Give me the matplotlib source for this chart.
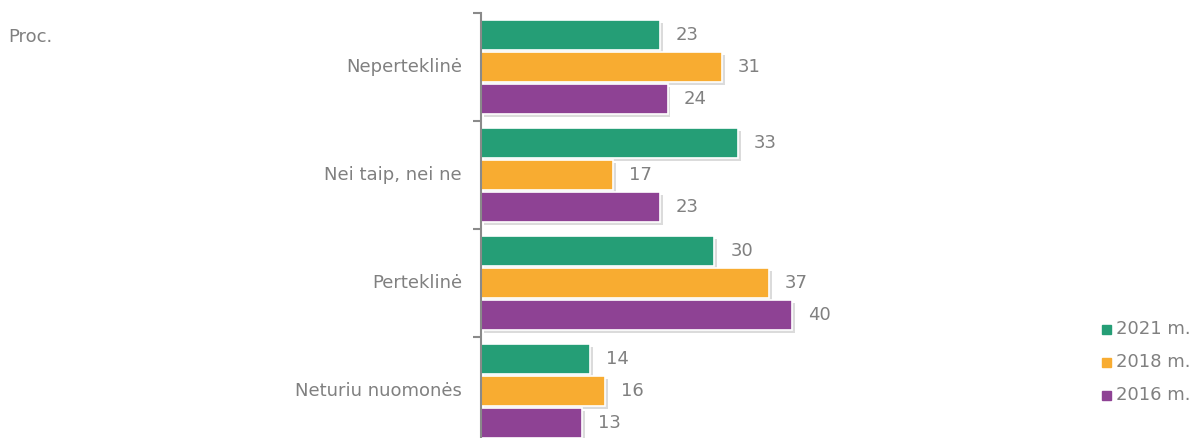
import numpy as np
import matplotlib.pyplot as plt
from matplotlib import patheffects as pe

# data
categories = ["Neperteklinė", "Nei taip, nei ne", "Perteklinė", "Neturiu nuomonės"]
years = ["2021 m.", "2018 m.", "2016 m."]
v2021 = [23, 33, 30, 14]
v2018 = [31, 17, 37, 16]
v2016 = [24, 23, 40, 13]
colors = ["#259E76", "#F8AC31", "#8E4294"]

grey = "#808080"
plt.rcParams["font.family"] = ["DejaVu Sans"]

W, H = 1195, 438
fig = plt.figure(figsize=(W / 100, H / 100), dpi=100)

# axes placed in pixel terms: left 481, top 13, category height 108
left, top, cat_h = 481, 13, 108
px_per_unit = 7.78
xmax = 70
ax_w = xmax * px_per_unit
ax_h = cat_h * len(categories)
ax = fig.add_axes([left / W, 1 - (top + ax_h) / H, ax_w / W, ax_h / H])

y = np.arange(len(categories))
off = 0.296
bh = 0.278
shadow = [pe.SimplePatchShadow(offset=(2, -2), shadow_rgbFace="#999999", alpha=0.35), pe.Normal()]

for k, (vals, c) in enumerate(zip([v2021, v2018, v2016], colors)):
    bars = ax.barh(y + (k - 1) * off, vals, height=bh, color=c, edgecolor="white",
                   linewidth=1.2, label=years[k])
    for b in bars:
        b.set_path_effects(shadow)
    for yy, v in zip(y + (k - 1) * off, vals):
        ax.text(v + 16 / px_per_unit, yy, str(v), va="center", ha="left",
                fontsize=13, color=grey)

ax.set_xlim(0, xmax)
ax.set_ylim(len(categories) - 0.5, -0.5)

for s in ["top", "right", "bottom"]:
    ax.spines[s].set_visible(False)
ax.spines["left"].set_color("#8a8a8a")
ax.spines["left"].set_linewidth(1.5)
ax.set_xticks([])
ax.set_yticks(np.arange(len(categories) + 1) - 0.5)
ax.set_yticklabels([])
ax.tick_params(axis="y", length=6, width=1.5, color="#8a8a8a", direction="out")

for yy, cat in zip(y, categories):
    ax.text(-19 / px_per_unit, yy, cat, ha="right", va="center", fontsize=13, color=grey)

fig.text(8 / W, 1 - 37 / H, "Proc.", ha="left", va="center", fontsize=13, color=grey)

# legend
for k, (lab, c) in enumerate(zip(years, colors)):
    yy = 1 - (329 + 33 * k) / H
    fig.patches.append(plt.Rectangle((1102 / W, yy - 4.5 / H), 9 / W, 9 / H,
                                     transform=fig.transFigure, color=c, figure=fig))
    fig.text(1116 / W, yy, lab, ha="left", va="center", fontsize=13, color=grey)

fig.savefig("out.png", dpi=100)
